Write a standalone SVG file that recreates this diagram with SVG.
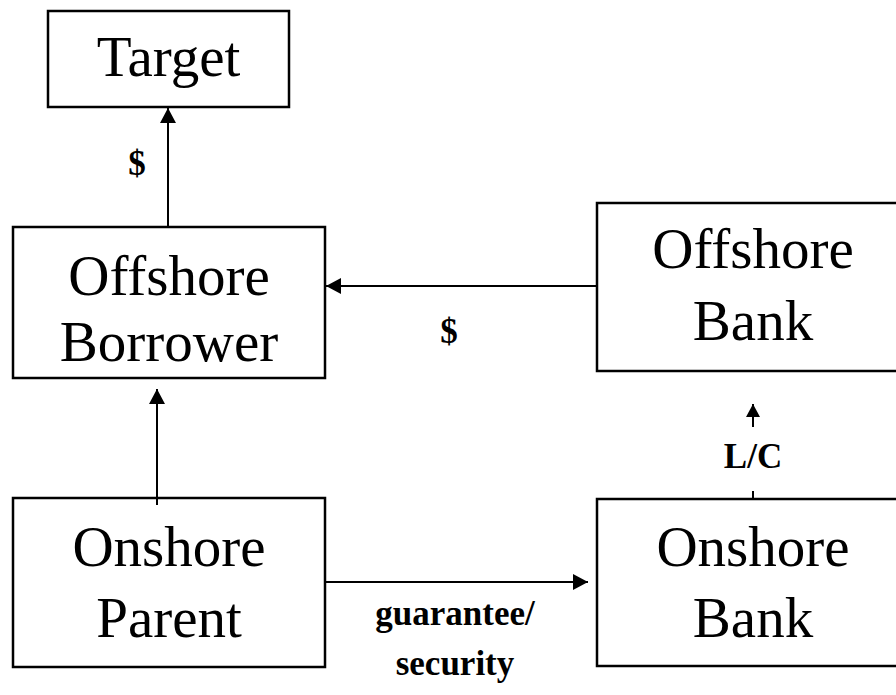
<svg xmlns="http://www.w3.org/2000/svg" width="896" height="695" viewBox="0 0 896 695">
<defs>
<marker id="ah" viewBox="0 0 15 16" refX="15" refY="8" markerWidth="15" markerHeight="16" markerUnits="userSpaceOnUse" orient="auto">
<path d="M0,0 L15,8 L0,16 z" fill="#000"/>
</marker>
<marker id="ahs" viewBox="0 0 13 14" refX="13" refY="7" markerWidth="13" markerHeight="14" markerUnits="userSpaceOnUse" orient="auto">
<path d="M0,0 L13,7 L0,14 z" fill="#000"/>
</marker>
<style>
.box{fill:#fff;stroke:#000;stroke-width:2.5}
.t{font-family:"Liberation Serif","Times New Roman",serif;font-size:57px;text-anchor:middle;fill:#000}
.l{font-family:"Liberation Serif","Times New Roman",serif;font-size:35px;font-weight:bold;text-anchor:middle;fill:#000}
.c{stroke:#000;stroke-width:2;fill:none}
</style>
</defs>
<rect width="896" height="695" fill="#fff"/>
<g id="connectors">
<line class="c" x1="168" y1="227" x2="168" y2="108" marker-end="url(#ah)"/>
<line class="c" x1="597" y1="286" x2="326" y2="286" marker-end="url(#ah)"/>
<line class="c" x1="157" y1="505" x2="157" y2="389" marker-end="url(#ah)"/>
<line class="c" x1="325" y1="582" x2="588" y2="582" marker-end="url(#ah)"/>
<line class="c" x1="753" y1="427" x2="753" y2="404" marker-end="url(#ahs)"/>
<line class="c" x1="753" y1="491" x2="753" y2="500"/>
<text class="l" x="137" y="175">$</text>
<text class="l" x="449" y="343">$</text>
<text class="l" x="753" y="468">L/C</text>
<text class="l" x="455" y="625">guarantee/</text>
<text class="l" x="455" y="675">security</text>
</g>
<g id="target">
<rect class="box" x="48" y="11" width="241" height="96"/>
<text class="t" x="168.5" y="76">Target</text>
</g>
<g id="offshore-borrower">
<rect class="box" x="13" y="227" width="312" height="151"/>
<text class="t" x="169" y="295">Offshore</text>
<text class="t" x="169" y="361">Borrower</text>
</g>
<g id="offshore-bank">
<rect class="box" x="597" y="203" width="312" height="168"/>
<text class="t" x="753" y="268">Offshore</text>
<text class="t" x="753" y="340">Bank</text>
</g>
<g id="onshore-parent">
<rect class="box" x="13" y="498" width="312" height="169"/>
<text class="t" x="169" y="566">Onshore</text>
<text class="t" x="169" y="637">Parent</text>
</g>
<g id="onshore-bank">
<rect class="box" x="597" y="499" width="312" height="167"/>
<text class="t" x="753" y="566">Onshore</text>
<text class="t" x="753" y="637">Bank</text>
</g>
<line x1="157" y1="498" x2="157" y2="505" class="c"/>
</svg>
